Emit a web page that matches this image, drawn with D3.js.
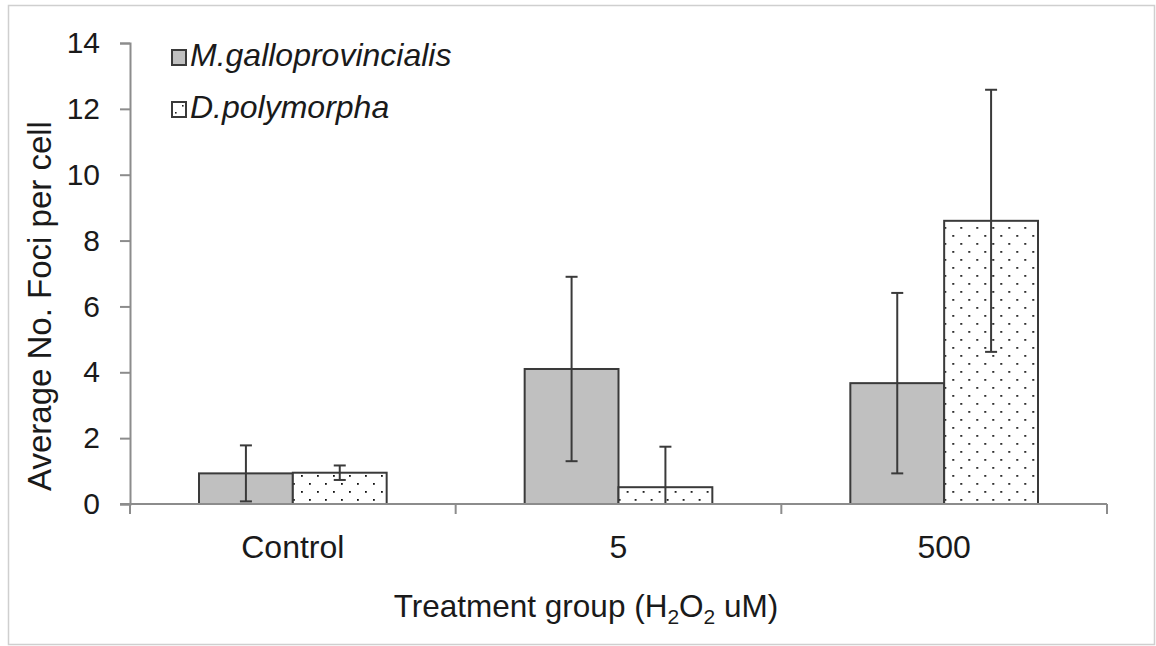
<!DOCTYPE html>
<html>
<head>
<meta charset="utf-8">
<script src="https://cdn.jsdelivr.net/npm/d3@7"></script>
<style>
  html, body { margin: 0; padding: 0; background: #fff; }
  svg { display: block; }
  text { font-family: "Liberation Sans", Arial, sans-serif; fill: #1a1a1a; }
</style>
</head>
<body>
<svg id="chart" width="1156" height="646"></svg>
<script>
const categories = ["Control", "5", "500"];
const seriesNames = ["M.galloprovincialis", "D.polymorpha"];
const mgalloValues = [0.93, 4.1, 3.67];
const mgalloErrors = [0.85, 2.8, 2.74];
const dpolyValues = [0.95, 0.51, 8.6];
const dpolyErrors = [0.22, 1.23, 3.98];
const yTicks = [0, 2, 4, 6, 8, 10, 12, 14];

const series = [
  { name: seriesNames[0], values: mgalloValues, errors: mgalloErrors, fill: "#c0c0c0" },
  { name: seriesNames[1], values: dpolyValues, errors: dpolyErrors, fill: "url(#dots)" }
];

const svg = d3.select("#chart");
const plot = { left: 130, right: 1107, top: 43, bottom: 504 };

// border
svg.append("rect").attr("x", 8.5).attr("y", 5.5).attr("width", 1146).attr("height", 639)
  .attr("fill", "#fff").attr("stroke", "#cfcfcf").attr("stroke-width", 1.5);

// dot pattern
const defs = svg.append("defs");
const pat = defs.append("pattern").attr("id", "dots").attr("patternUnits", "userSpaceOnUse")
  .attr("width", 16).attr("height", 16);
pat.append("rect").attr("width", 16).attr("height", 16).attr("fill", "#fff");
pat.append("rect").attr("x", 3).attr("y", 3).attr("width", 1.8).attr("height", 1.8).attr("fill", "#111");
pat.append("rect").attr("x", 11).attr("y", 11).attr("width", 1.8).attr("height", 1.8).attr("fill", "#111");

const y = d3.scaleLinear().domain([0, 14]).range([plot.bottom, plot.top]);
const x0 = d3.scaleBand().domain(categories).range([plot.left, plot.right]).padding(0);
const innerPad = 69;
const x1 = d3.scaleBand().domain(seriesNames).range([innerPad, x0.bandwidth() - innerPad]).padding(0);

// y axis
const yAxis = svg.append("g").attr("transform", `translate(${plot.left},0)`)
  .call(d3.axisLeft(y).tickValues(yTicks).tickSize(10).tickSizeOuter(10).tickPadding(20));
yAxis.select(".domain").attr("stroke", "#8c8c8c").attr("stroke-width", 2);
yAxis.selectAll(".tick line").attr("stroke", "#8c8c8c").attr("stroke-width", 2);
yAxis.selectAll(".tick text").attr("font-size", 30).attr("fill", "#1a1a1a")
  .style("font-family", "Liberation Sans, Arial, sans-serif");

// bars
const groups = svg.append("g").selectAll("g").data(categories).join("g")
  .attr("transform", d => `translate(${x0(d)},0)`);

series.forEach(s => {
  groups.append("rect")
    .attr("x", () => x1(s.name))
    .attr("y", (d, i) => y(s.values[i]))
    .attr("width", x1.bandwidth())
    .attr("height", (d, i) => y(0) - y(s.values[i]))
    .attr("fill", s.fill)
    .attr("stroke", "#3a3a3a")
    .attr("stroke-width", 2);
});

// x axis
const xAxisG = svg.append("g").attr("transform", `translate(0,${plot.bottom})`);
xAxisG.append("line").attr("x1", plot.left - 10).attr("x2", plot.right)
  .attr("stroke", "#8c8c8c").attr("stroke-width", 2);
const boundaries = categories.map(c => x0(c)).concat([x0(categories[categories.length - 1]) + x0.bandwidth()]);
xAxisG.selectAll("line.tk").data(boundaries).join("line").attr("class", "tk")
  .attr("x1", d => d).attr("x2", d => d).attr("y1", 0).attr("y2", 10)
  .attr("stroke", "#8c8c8c").attr("stroke-width", 2);
xAxisG.selectAll("text").data(categories).join("text")
  .attr("x", d => x0(d) + x0.bandwidth() / 2)
  .attr("y", 54)
  .attr("text-anchor", "middle")
  .attr("font-size", 32)
  .text(d => d);

// error bars
series.forEach(s => {
  const eb = groups.append("g").attr("stroke", "#3a3a3a").attr("stroke-width", 2);
  const cx = x1(s.name) + x1.bandwidth() / 2;
  eb.append("line")
    .attr("x1", cx).attr("x2", cx)
    .attr("y1", (d, i) => y(s.values[i] + s.errors[i]))
    .attr("y2", (d, i) => y(Math.max(0, s.values[i] - s.errors[i])));
  eb.append("line")
    .attr("x1", cx - 6).attr("x2", cx + 6)
    .attr("y1", (d, i) => y(s.values[i] + s.errors[i]))
    .attr("y2", (d, i) => y(s.values[i] + s.errors[i]));
  eb.filter((d, i) => s.values[i] - s.errors[i] >= 0).append("line")
    .attr("x1", cx - 6).attr("x2", cx + 6)
    .attr("y1", (d) => { const i = categories.indexOf(d); return y(s.values[i] - s.errors[i]); })
    .attr("y2", (d) => { const i = categories.indexOf(d); return y(s.values[i] - s.errors[i]); });
});

// legend
const legend = svg.append("g");
series.forEach((s, i) => {
  const gy = 50 + i * 52;
  legend.append("rect").attr("x", 172).attr("y", gy).attr("width", 14).attr("height", 15)
    .attr("fill", i === 0 ? "#c0c0c0" : "#fff").attr("stroke", "#3a3a3a").attr("stroke-width", 2);
  if (i === 1) {
    legend.append("rect").attr("x", 175).attr("y", gy + 10).attr("width", 1.6).attr("height", 1.6).attr("fill", "#222");
    legend.append("rect").attr("x", 182).attr("y", gy + 3).attr("width", 1.6).attr("height", 1.6).attr("fill", "#222");
  }
  legend.append("text").attr("x", 190).attr("y", gy + 16)
    .attr("font-size", 32).attr("font-style", "italic").text(s.name);
});

// y title
svg.append("text")
  .attr("transform", `translate(51,306) rotate(-90)`)
  .attr("text-anchor", "middle").attr("font-size", 33)
  .text("Average No. Foci per cell");

// x title with subscripts
const xt = svg.append("text").attr("x", 586).attr("y", 617).attr("text-anchor", "middle").attr("font-size", 31.5);
xt.append("tspan").text("Treatment group (H");
xt.append("tspan").attr("font-size", 21).attr("dy", 7).text("2");
xt.append("tspan").attr("dy", -7).text("O");
xt.append("tspan").attr("font-size", 21).attr("dy", 7).text("2");
xt.append("tspan").attr("dy", -7).text(" uM)");
</script>
</body>
</html>
